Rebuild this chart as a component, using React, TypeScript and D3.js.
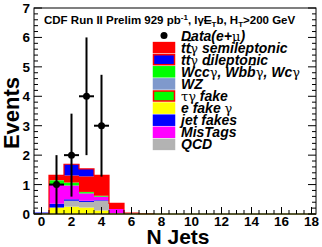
import React from 'react';
import * as d3 from 'd3';

// N jets bins (histogram centres); bins 8..18 are empty
const bins = [0, 1, 2, 3, 4, 5, 6, 7];

// stacked backgrounds, bottom -> top
const eFake = [0, 0.22, 0.25, 0.22, 0.12, 0.02, 0, 0];
const qcd = [0, 0, 0.2, 0.19, 0.33, 0, 0, 0];
const jetFakes = [0.05, 0.13, 0.05, 0.04, 0.02, 0, 0, 0];
const misTags = [0, 0.66, 0.47, 0.25, 0.12, 0.15, 0, 0];
const wz = [0, 0, 0, 0, 0, 0, 0, 0];
const wcc = [0, 0.12, 0.1, 0.04, 0.03, 0, 0, 0];
const tauFake = [0, 0.02, 0, 0.01, 0, 0, 0, 0];
const semilep = [0, 0.14, 0.24, 0.53, 0.69, 0.19, 0.03, 0.01];
const dilep = [0, 0.02, 0.38, 0.25, 0, 0, 0, 0];

// data points (e+mu)
const dataBins = [1, 2, 3, 4];
const dataVals = [1, 2, 4, 3];
const dataErr = [1, 1.41, 2, 1.73];

const xTicks = [0, 2, 4, 6, 8, 10, 12, 14, 16, 18];
const yTicks = [0, 1, 2, 3, 4, 5, 6, 7];

const layers = [
  { name: 'eFake', vals: eFake, fill: '#ffff00' },
  { name: 'qcd', vals: qcd, fill: '#b3b3b3' },
  { name: 'jet', vals: jetFakes, fill: '#0000ff' },
  { name: 'mis', vals: misTags, fill: '#ff00ff' },
  { name: 'wz', vals: wz, fill: '#7f99cc' },
  { name: 'wcc', vals: wcc, fill: '#00ff00' },
  { name: 'tau', vals: tauFake, fill: '#00ff00' },
  { name: 'semi', vals: semilep, fill: '#ff0000' },
  { name: 'dilep', vals: dilep, fill: '#0000ff' },
];

const legendItems = [
  { label: 'tt̄γ semileptonic', fill: '#ff0000', stroke: '#ff0000' },
  { label: 'tt̄γ dileptonic', fill: '#0000ff', stroke: '#ff0000' },
  { label: 'Wcc̄γ, Wbb̄γ, Wcγ', fill: '#00ff00', stroke: '#00ff00' },
  { label: 'WZ', fill: '#7f99cc', stroke: '#7f99cc' },
  { label: 'τγ fake', fill: '#00ff00', stroke: '#ff0000' },
  { label: 'e fake γ', fill: '#ffff00', stroke: '#ffff00' },
  { label: 'jet fakes', fill: '#0000ff', stroke: '#0000ff' },
  { label: 'MisTags', fill: '#ff00ff', stroke: '#ff00ff' },
  { label: 'QCD', fill: '#b3b3b3', stroke: '#b3b3b3' },
];

// greek letters are upright (symbol font) in the legend
function Label({ text }: { text: string }) {
  const parts = text.split(/([α-ωμ]+)/).filter(p => p.length);
  return (
    <>
      {parts.map((p, i) => /[α-ωμ]/.test(p)
        ? <tspan key={i} fontStyle="normal" fontWeight="normal" fontFamily="'DejaVu Serif', serif" fontSize={13}>{p}</tspan>
        : <tspan key={i}>{p}</tspan>)}
    </>
  );
}

export default function App() {
  const W = 322;
  const H = 247;
  const left = 34, right = 316, top = 8, bottom = 214;

  const x = d3.scaleLinear().domain([-0.5, 18.3]).range([left, right]);
  const y = d3.scaleLinear().domain([0, 7]).range([bottom, top]);

  // cumulative stack
  const stack = d3.stack<number>()
    .keys(layers.map((_, i) => String(i)))
    .value((b, k) => layers[+k].vals[b]);
  const series = stack(bins.map((_, i) => i));

  const totals = bins.map((_, i) => layers.reduce((s, l) => s + l.vals[i], 0));

  // outline of the whole stack (steps)
  let outline = `M${x(0.5)},${y(0)}`;
  bins.slice(1).forEach((b, j) => {
    const i = j + 1;
    outline += `L${x(b - 0.5)},${y(totals[i])}L${x(b + 0.5)},${y(totals[i])}`;
  });
  outline += `L${x(7.5)},${y(0)}`;

  const font = "'Liberation Sans', Arial, Helvetica, sans-serif";
  const yMinor = d3.range(0, 7.001, 0.2);
  const xMinor = d3.range(-0.5, 18.31, 0.5);

  const legX = 153, legY0 = 35.5, legStep = 12.1;

  return (
    <svg width={W} height={H} style={{ position: 'absolute', left: 0, top: 0, background: '#fff' }}
      fontFamily={font}>
      {/* stacked bars */}
      {series.map((s, li) => (
        <g key={li} fill={layers[li].fill}>
          {s.map((d, bi) => d[1] - d[0] > 0 ? (
            <rect key={bi} x={x(bins[bi] - 0.5)} width={x(bins[bi] + 0.5) - x(bins[bi] - 0.5)}
              y={y(d[1])} height={y(d[0]) - y(d[1])} />
          ) : null)}
        </g>
      ))}
      <path d={outline} fill="none" stroke="#ff0000" strokeWidth={1.2} />

      {/* frame */}
      <rect x={left} y={top} width={right - left} height={bottom - top} fill="none" stroke="#000" strokeWidth={1} />
      <line x1={left} x2={right} y1={bottom} y2={bottom} stroke="#4d4d1a" strokeWidth={1.5} />

      {/* y ticks */}
      {yMinor.map((v, i) => {
        const major = Math.abs(v - Math.round(v)) < 1e-6;
        const len = major ? 8 : 4;
        return (
          <g key={i} stroke="#000" strokeWidth={1}>
            <line x1={left} x2={left + len} y1={y(v)} y2={y(v)} />
            <line x1={right} x2={right - len} y1={y(v)} y2={y(v)} />
          </g>
        );
      })}
      {yTicks.map(v => (
        <text key={v} x={30} y={y(v) + 5} textAnchor="end" fontSize={13.5} fontWeight="bold">{v}</text>
      ))}

      {/* x ticks */}
      {xMinor.map((v, i) => {
        const major = Math.abs(v / 2 - Math.round(v / 2)) < 1e-6;
        const len = major ? 7 : 4;
        return <line key={i} x1={x(v)} x2={x(v)} y1={bottom} y2={bottom - len} stroke="#000" />;
      })}
      {xTicks.map(v => (
        <text key={v} x={x(v)} y={226} textAnchor="middle" fontSize={13.5} fontWeight="bold">{v}</text>
      ))}

      {/* axis titles */}
      <text x={178} y={244} textAnchor="middle" fontSize={21} fontWeight="bold">N Jets</text>
      <text transform={`translate(19,113) rotate(-90)`} textAnchor="middle" fontSize={22} fontWeight="bold">Events</text>

      {/* data */}
      {dataBins.map((b, i) => (
        <g key={b} stroke="#000" strokeWidth={2}>
          <line x1={x(b - 0.5)} x2={x(b + 0.5)} y1={y(dataVals[i])} y2={y(dataVals[i])} />
          <line x1={x(b)} x2={x(b)} y1={y(Math.max(0, dataVals[i] - dataErr[i]))} y2={y(dataVals[i] + dataErr[i])} />
          <circle cx={x(b)} cy={y(dataVals[i])} r={3.5} fill="#000" stroke="none" />
        </g>
      ))}

      {/* title */}
      <text x={44} y={24} fontSize={11.5} fontWeight="bold">
        CDF Run II Prelim 929 pb<tspan dy={-4} fontSize={8}>-1</tspan>
        <tspan dy={4}>, lγ</tspan>
        <tspan textDecoration="line-through">E</tspan>
        <tspan dy={3} fontSize={8}>T</tspan>
        <tspan dy={-3}>b, H</tspan>
        <tspan dy={3} fontSize={8}>T</tspan>
        <tspan dy={-3}>&gt;200 GeV</tspan>
      </text>

      {/* legend */}
      <circle cx={164} cy={legY0} r={3.5} fill="#000" />
      <text x={181} y={legY0 + 5} fontSize={14} fontWeight="bold" fontStyle="italic"><Label text="Data(e+μ)" /></text>
      {legendItems.map((it, i) => {
        const cy = legY0 + legStep * (i + 1);
        return (
          <g key={i}>
            <rect x={legX + 0.5} y={cy - 5} width={21} height={10} fill={it.fill} stroke={it.stroke} strokeWidth={1.5} />
            <text x={181} y={cy + 5} fontSize={14} fontWeight="bold" fontStyle="italic"><Label text={it.label} /></text>
          </g>
        );
      })}
    </svg>
  );
}
